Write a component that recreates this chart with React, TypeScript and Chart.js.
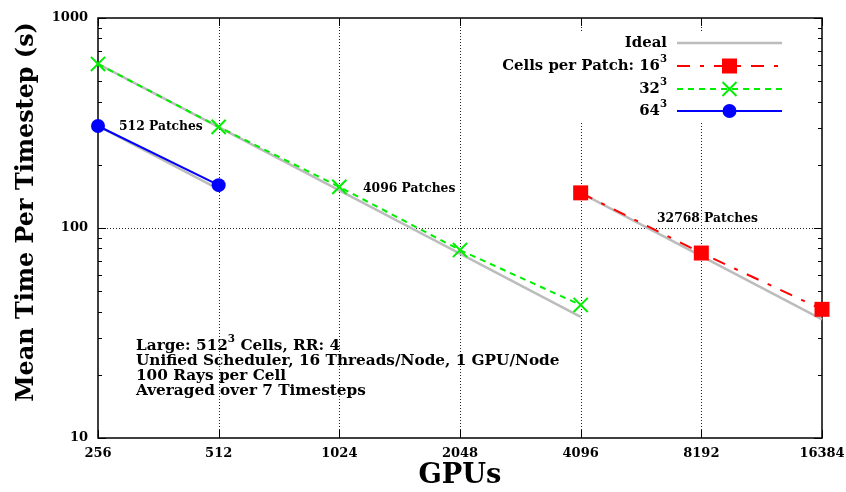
import React, { useEffect, useRef } from 'react';
import { Chart, registerables } from 'chart.js';
Chart.register(...registerables);

const FF = '"DejaVu Serif", serif';

const gpuTicks = [256, 512, 1024, 2048, 4096, 8192, 16384];
const yMajor = [10, 100, 1000];
const yMinor = [20, 30, 40, 50, 60, 70, 80, 90, 200, 300, 400, 500, 600, 700, 800, 900];

const gpus16 = [4096, 8192, 16384];
const time16 = [147, 76, 41];
const ideal16 = [147, 73.5, 36.75];

const gpus32 = [256, 512, 1024, 2048, 4096];
const time32 = [604, 303, 157, 78.5, 43];
const ideal32 = [604, 302, 151, 75.5, 37.75];

const gpus64 = [256, 512];
const time64 = [306, 160];
const ideal64 = [306, 153];

const RED = '#ff0000';
const GREEN = '#00ee00';
const BLUE = '#0000ff';
const GRAY = '#bcbcbc';

const dashRed = [13, 10, 4, 10];
const dashGreen = [6, 5];

type Part = [string, boolean];

function partsWidth(ctx: CanvasRenderingContext2D, parts: Part[], size: number) {
  let t = 0;
  for (const [s, sup] of parts) {
    ctx.font = `bold ${sup ? size * 0.68 : size}px ${FF}`;
    t += ctx.measureText(s).width;
  }
  return t;
}
function fitParts(ctx: CanvasRenderingContext2D, parts: Part[], target: number) {
  return (100 * target) / partsWidth(ctx, parts, 100);
}
function drawParts(ctx: CanvasRenderingContext2D, parts: Part[], x: number, y: number, size: number, align: 'left' | 'right' | 'center') {
  const total = partsWidth(ctx, parts, size);
  let cx = align === 'right' ? x - total : align === 'center' ? x - total / 2 : x;
  ctx.textAlign = 'left';
  ctx.textBaseline = 'middle';
  ctx.fillStyle = '#000';
  for (const [s, sup] of parts) {
    ctx.font = `bold ${sup ? size * 0.68 : size}px ${FF}`;
    ctx.fillText(s, cx, sup ? y - size * 0.42 : y);
    cx += ctx.measureText(s).width;
  }
}

const framePlugin = {
  id: 'frame',
  beforeDatasetsDraw(chart: any) {
    const { ctx, chartArea: a, scales } = chart;
    const xs = scales.x, ys = scales.y;
    ctx.save();
    // dotted grid
    ctx.strokeStyle = '#222';
    ctx.lineWidth = 1;
    ctx.setLineDash([1, 2]);
    for (const g of gpuTicks.slice(1, -1)) {
      const px = Math.round(xs.getPixelForValue(g)) + 0.5;
      ctx.beginPath();
      ctx.moveTo(px, a.top);
      ctx.lineTo(px, a.bottom);
      ctx.stroke();
    }
    for (const v of yMajor.slice(1, -1)) {
      const py = Math.round(ys.getPixelForValue(v)) + 0.5;
      ctx.beginPath();
      ctx.moveTo(a.left, py);
      ctx.lineTo(a.right, py);
      ctx.stroke();
    }
    ctx.setLineDash([]);
    // ticks
    ctx.strokeStyle = '#000';
    ctx.lineWidth = 1;
    for (const g of gpuTicks) {
      const px = Math.round(xs.getPixelForValue(g)) + 0.5;
      ctx.beginPath();
      ctx.moveTo(px, a.bottom);
      ctx.lineTo(px, a.bottom - 8);
      ctx.moveTo(px, a.top);
      ctx.lineTo(px, a.top + 8);
      ctx.stroke();
    }
    const yt = (v: number, len: number) => {
      const py = Math.round(ys.getPixelForValue(v)) + 0.5;
      ctx.beginPath();
      ctx.moveTo(a.left, py);
      ctx.lineTo(a.left + len, py);
      ctx.moveTo(a.right, py);
      ctx.lineTo(a.right - len, py);
      ctx.stroke();
    };
    yMajor.forEach((v) => yt(v, 8));
    yMinor.forEach((v) => yt(v, 4));
    // border
    ctx.lineWidth = 1.5;
    ctx.strokeRect(a.left, a.top, a.right - a.left, a.bottom - a.top);

    // axis titles
    const tSize = fitParts(ctx, [['Mean Time Per Timestep (s)', false]], 380);
    ctx.save();
    ctx.translate(27, 212);
    ctx.rotate(-Math.PI / 2);
    drawParts(ctx, [['Mean Time Per Timestep (s)', false]], 0, 0, tSize, 'center');
    ctx.restore();
    const gSize = fitParts(ctx, [['GPUs', false]], 83);
    drawParts(ctx, [['GPUs', false]], (a.left + a.right) / 2, 476, gSize, 'center');

    // annotations
    const aSize = fitParts(ctx, [['32768 Patches', false]], 101);
    drawParts(ctx, [['512 Patches', false]], 119, 127, aSize, 'left');
    drawParts(ctx, [['4096 Patches', false]], 363, 189, aSize, 'left');
    drawParts(ctx, [['32768 Patches', false]], 657, 219, aSize, 'left');

    const bSize = fitParts(ctx, [['Unified Scheduler, 16 Threads/Node, 1 GPU/Node', false]], 424);
    drawParts(ctx, [['Large: 512', false], ['3', true], [' Cells, RR: 4', false]], 136, 346, bSize, 'left');
    drawParts(ctx, [['Unified Scheduler, 16 Threads/Node, 1 GPU/Node', false]], 136, 361, bSize, 'left');
    drawParts(ctx, [['100 Rays per Cell', false]], 136, 376, bSize, 'left');
    drawParts(ctx, [['Averaged over 7 Timesteps', false]], 136, 391, bSize, 'left');
    ctx.restore();
  },
  afterDatasetsDraw(chart: any) {
    const { ctx } = chart;
    ctx.save();
    ctx.fillStyle = '#fff';
    ctx.fillRect(496, 31, 292, 92);
    const lSize = fitParts(ctx, [['Cells per Patch: 16', false], ['3', true]], 165);
    const tx = 667, x0 = 677, x1 = 782, mx = 729.5;
    const rows = [43, 66, 89, 111];
    drawParts(ctx, [['Ideal', false]], tx, rows[0], lSize, 'right');
    drawParts(ctx, [['Cells per Patch: 16', false], ['3', true]], tx, rows[1], lSize, 'right');
    drawParts(ctx, [['32', false], ['3', true]], tx, rows[2], lSize, 'right');
    drawParts(ctx, [['64', false], ['3', true]], tx, rows[3], lSize, 'right');
    const line = (y: number, color: string, w: number, dash: number[]) => {
      ctx.strokeStyle = color;
      ctx.lineWidth = w;
      ctx.setLineDash(dash);
      ctx.beginPath();
      ctx.moveTo(x0, y);
      ctx.lineTo(x1, y);
      ctx.stroke();
      ctx.setLineDash([]);
    };
    line(rows[0], GRAY, 2.5, []);
    line(rows[1], RED, 2, dashRed);
    line(rows[2], GREEN, 2, dashGreen);
    line(rows[3], BLUE, 2, []);
    ctx.fillStyle = RED;
    ctx.fillRect(mx - 7.5, rows[1] - 7.5, 15, 15);
    ctx.strokeStyle = GREEN;
    ctx.lineWidth = 2;
    ctx.beginPath();
    ctx.moveTo(mx - 7, rows[2] - 7);
    ctx.lineTo(mx + 7, rows[2] + 7);
    ctx.moveTo(mx + 7, rows[2] - 7);
    ctx.lineTo(mx - 7, rows[2] + 7);
    ctx.stroke();
    ctx.fillStyle = BLUE;
    ctx.beginPath();
    ctx.arc(mx, rows[3], 7, 0, Math.PI * 2);
    ctx.fill();
    ctx.restore();
  },
};

const pts = (xs: number[], ys: number[]) => xs.map((x, i) => ({ x, y: ys[i] }));

export default function App() {
  const ref = useRef<HTMLCanvasElement>(null);
  useEffect(() => {
    const canvas = ref.current!;
    const tickFont = { family: FF, size: 13, weight: 'bold' as const };
    const chart = new Chart(canvas, {
      type: 'line',
      data: {
        datasets: [
          {
            label: '16^3',
            data: pts(gpus16, time16),
            borderColor: RED,
            backgroundColor: RED,
            borderWidth: 2,
            borderDash: dashRed,
            pointStyle: 'rect',
            pointRadius: 10.6,
            pointBorderWidth: 0,
            pointBackgroundColor: RED,
            clip: false as any,
            order: 1,
          },
          {
            label: '32^3',
            data: pts(gpus32, time32),
            borderColor: GREEN,
            backgroundColor: GREEN,
            borderWidth: 2,
            borderDash: dashGreen,
            pointStyle: 'crossRot',
            pointRadius: 10,
            pointBorderWidth: 2,
            pointBorderColor: GREEN,
            clip: false as any,
            order: 1,
          },
          {
            label: '64^3',
            data: pts(gpus64, time64),
            borderColor: BLUE,
            backgroundColor: BLUE,
            borderWidth: 2,
            pointStyle: 'circle',
            pointRadius: 7,
            pointBorderWidth: 0,
            pointBackgroundColor: BLUE,
            clip: false as any,
            order: 1,
          },
          {
            label: 'Ideal',
            data: pts(gpus16, ideal16),
            borderColor: GRAY,
            borderWidth: 2.5,
            pointRadius: 0,
            clip: false as any,
            order: 5,
          },
          {
            label: 'Ideal32',
            data: pts(gpus32, ideal32),
            borderColor: GRAY,
            borderWidth: 2.5,
            pointRadius: 0,
            clip: false as any,
            order: 5,
          },
          {
            label: 'Ideal64',
            data: pts(gpus64, ideal64),
            borderColor: GRAY,
            borderWidth: 2.5,
            pointRadius: 0,
            clip: false as any,
            order: 5,
          },
        ],
      },
      options: {
        responsive: false,
        animation: false,
        events: [],
        layout: { padding: { top: 18, right: 24, left: 0, bottom: 0 } },
        plugins: { legend: { display: false }, tooltip: { enabled: false } },
        scales: {
          x: {
            type: 'logarithmic',
            min: 256,
            max: 16384,
            afterBuildTicks: (s: any) => {
              s.ticks = gpuTicks.map((v) => ({ value: v }));
            },
            afterFit: (s: any) => {
              s.height = 54;
              s.paddingLeft = 0;
              s.paddingRight = 0;
            },
            ticks: {
              autoSkip: false,
              maxRotation: 0,
              padding: 0,
              color: '#000',
              font: tickFont,
              callback: (v: any) => String(v),
            },
            grid: { display: false },
            border: { display: false },
          },
          y: {
            type: 'logarithmic',
            min: 10,
            max: 1000,
            afterBuildTicks: (s: any) => {
              s.ticks = yMajor.map((v) => ({ value: v }));
            },
            afterFit: (s: any) => {
              s.width = 98;
              s.paddingTop = 0;
              s.paddingBottom = 0;
            },
            ticks: {
              autoSkip: false,
              padding: 2,
              color: '#000',
              font: tickFont,
              callback: (v: any) => String(v),
            },
            grid: { display: false },
            border: { display: false },
          },
        },
      },
      plugins: [framePlugin],
    } as any);
    return () => chart.destroy();
  }, []);
  return (
    <div style={{ position: 'fixed', left: 0, top: 0, width: 846, height: 492, background: '#fff' }}>
      <canvas ref={ref} width={846} height={492} style={{ display: 'block', width: 846, height: 492 }} />
    </div>
  );
}
